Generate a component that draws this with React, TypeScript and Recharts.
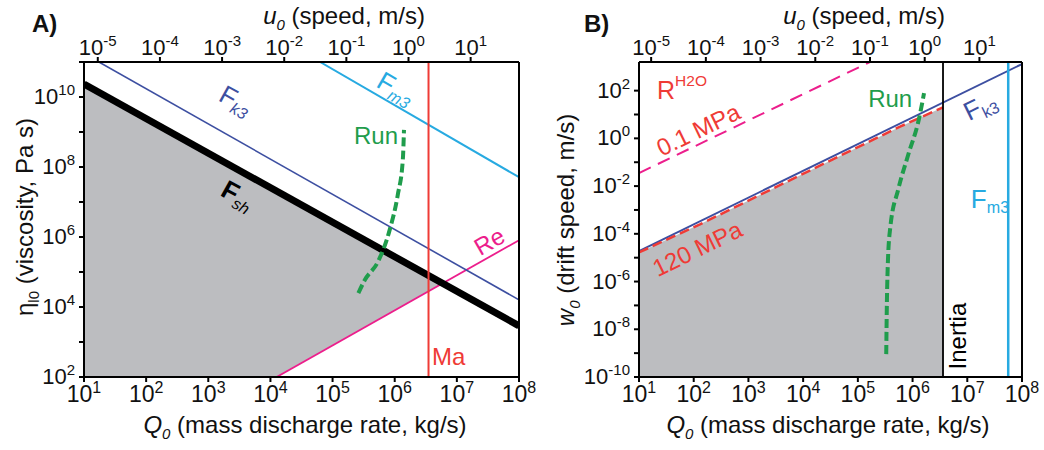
import React from 'react';
import { ComposedChart, Line, Area, XAxis, YAxis, ReferenceLine, ReferenceDot } from 'recharts';

const FONT = "'Liberation Sans', Arial, Helvetica, sans-serif";

// axis ticks
const qTicks = [1e1, 1e2, 1e3, 1e4, 1e5, 1e6, 1e7, 1e8];
const uTicks = [1e-5, 1e-4, 1e-3, 1e-2, 1e-1, 1e0, 1e1];
const uDomain = [6.0e-6, 60];
const uSpan = [{ u: 6.0e-6, v: 1e4 }, { u: 60, v: 1e4 }];
const etaTicks = [1e2, 1e3, 1e4, 1e5, 1e6, 1e7, 1e8, 1e9, 1e10, 1e11];
const wTicks = [1e-10, 1e-9, 1e-8, 1e-7, 1e-6, 1e-5, 1e-4, 1e-3, 1e-2, 1e-1, 1e0, 1e1, 1e2];

// panel A (viscosity)
const grayA = [
  { q: 10, range: [100, 2.34e10] },
  { q: 1.26e4, range: [100, 2.0e7] },
  { q: 5.9e6, range: [4.7e4, 4.7e4] },
];
const fk3A = [{ q: 17.4, v: 1e11 }, { q: 1e8, v: 1.6e4 }];
const fshA = [{ q: 10, v: 2.34e10 }, { q: 1e8, v: 2.9e3 }];
const fm3A = [{ q: 6.3e4, v: 1e11 }, { q: 1e8, v: 5.1e7 }];
const reA = [{ q: 1.26e4, v: 100 }, { q: 1e8, v: 8.1e5 }];
const maQ = 3.5e6;
const runA = [
  { q: 2.6e5, v: 2.5e4 },
  { q: 3.3e5, v: 5.9e4 },
  { q: 5.4e5, v: 2.0e5 },
  { q: 8.3e5, v: 1.6e6 },
  { q: 1.12e6, v: 1.6e7 },
  { q: 1.35e6, v: 1.6e8 },
  { q: 1.41e6, v: 1.15e9 },
];

// panel B (drift speed)
const fk3B = [{ q: 10, v: 1.9e-5 }, { q: 1e8, v: 1.3e3 }];
const r120B = [
  { q: 10, v: 1.66e-5 },
  { q: 130, v: 2.5e-4 },
  { q: 8.7e3, v: 2.8e-2 },
  { q: 5.9e5, v: 3.1 },
  { q: 3.6e6, v: 20 },
];
const r01B = [{ q: 10, v: 3.5e-2 }, { q: 1.66e5, v: 1585 }];
const inertiaQ = 3.6e6;
const fm3BQ = 5.6e7;
const runB = [
  { q: 3.3e5, v: 9.1e-10 },
  { q: 3.4e5, v: 1.7e-7 },
  { q: 3.55e5, v: 7.9e-6 },
  { q: 3.9e5, v: 1.7e-4 },
  { q: 5.5e5, v: 7.6e-3 },
  { q: 8.3e5, v: 0.2 },
  { q: 1.32e6, v: 7.1 },
  { q: 1.62e6, v: 79 },
];

const BLUE = '#3d4fa1';
const CYAN = '#27aae1';
const PINK = '#ec1e8c';
const RED = '#ef3b36';
const GREEN = '#1f9d4c';
const GRAY = '#bcbdc0';

const exp10 = (v: number) => Math.round(Math.log10(v));

const BottomTick = (p: any) => (
  <text x={p.x} y={p.y + 18} textAnchor="middle" fontSize={23} fontFamily={FONT} fill="#111">
    <tspan>10</tspan>
    <tspan dy={-9} fontSize={16}>{exp10(p.payload.value)}</tspan>
  </text>
);

const TopTick = (p: any) => (
  <text x={p.x} y={p.y} textAnchor="middle" fontSize={22} fontFamily={FONT} fill="#111">
    <tspan>10</tspan>
    <tspan dy={-9} fontSize={15}>{exp10(p.payload.value)}</tspan>
  </text>
);

const LeftTick = (p: any) => {
  const e = exp10(p.payload.value);
  if (e % 2 !== 0) return <g />;
  return (
    <text x={p.x} y={p.y + 7} textAnchor="end" fontSize={22} fontFamily={FONT} fill="#111">
      <tspan>10</tspan>
      <tspan dy={-9} fontSize={15}>{e}</tspan>
    </text>
  );
};

type Seg = { s: string; sub?: boolean; sup?: boolean; it?: boolean; bold?: boolean };

const Ann = (props: any) => {
  const { viewBox, parts, color = '#000', size = 24, rot = 0 } = props;
  const x = viewBox.x + (viewBox.width || 0) / 2;
  const y = viewBox.y + (viewBox.height || 0) / 2;
  let shift = 0;
  const spans = (parts as Seg[]).map((seg, i) => {
    const target = seg.sub ? size * 0.3 : seg.sup ? -size * 0.38 : 0;
    const dy = target - shift;
    shift = target;
    return (
      <tspan
        key={i}
        dy={dy}
        fontSize={seg.sub || seg.sup ? size * 0.62 : size}
        fontStyle={seg.it ? 'italic' : 'normal'}
        fontWeight={seg.bold ? 'bold' : 'normal'}
      >
        {seg.s}
      </tspan>
    );
  });
  return (
    <text
      x={x}
      y={y}
      textAnchor="middle"
      dominantBaseline="central"
      fill={color}
      fontFamily={FONT}
      transform={rot ? `rotate(${rot} ${x} ${y})` : undefined}
    >
      {spans}
    </text>
  );
};

const Note = ({ q, v, ...rest }: any) => (
  <ReferenceDot x={q} y={v} r={0} fill="none" stroke="none" label={<Ann {...rest} />} />
);

const axisProps = {
  stroke: '#000',
  strokeWidth: 2,
  tickLine: { stroke: '#000', strokeWidth: 2 },
  tickSize: 5,
  interval: 0 as const,
  allowDataOverflow: true,
};

const PanelA = () => (
  <ComposedChart width={560} height={450} data={grayA} margin={{ top: 22, right: 40, bottom: 13, left: 0 }} style={{ overflow: 'visible' }}>
    <Area dataKey="range" type="linear" fill={GRAY} fillOpacity={1} stroke="none" isAnimationActive={false} />
    <XAxis dataKey="q" type="number" scale="log" domain={[10, 1e8]} ticks={qTicks} height={60} tickMargin={2} tick={<BottomTick />} {...axisProps} />
    <XAxis xAxisId="u" dataKey="u" orientation="top" type="number" scale="log" domain={uDomain} ticks={uTicks} height={40} tickMargin={2} tick={<TopTick />} {...axisProps} />
    <YAxis type="number" scale="log" domain={[1e2, 1e11]} ticks={etaTicks} width={84} tickMargin={4} tick={<LeftTick />} {...axisProps} />
    <YAxis yAxisId="r" orientation="right" type="number" domain={[0, 1]} width={1} tick={false} tickLine={false} stroke="#000" strokeWidth={2} />
    {/* invisible span that gives the speed axis something to measure */}
    <Line xAxisId="u" data={uSpan} dataKey="v" stroke="none" dot={false} isAnimationActive={false} />
    <Line data={reA} dataKey="v" type="linear" stroke={PINK} strokeWidth={1.8} dot={false} isAnimationActive={false} />
    <Line data={fm3A} dataKey="v" type="linear" stroke={CYAN} strokeWidth={2} dot={false} isAnimationActive={false} />
    <Line data={fk3A} dataKey="v" type="linear" stroke={BLUE} strokeWidth={1.6} dot={false} isAnimationActive={false} />
    <Line data={fshA} dataKey="v" type="linear" stroke="#000" strokeWidth={7} dot={false} isAnimationActive={false} />
    <ReferenceLine x={maQ} stroke={RED} strokeWidth={2} />
    <Line data={runA} dataKey="v" type="monotone" stroke={GREEN} strokeWidth={4} strokeDasharray="9 4" dot={false} isAnimationActive={false} />
    <Note q={2.79e3} v={8.2e9} color={BLUE} rot={29} size={26} parts={[{ s: 'F' }, { s: 'k3', sub: true, it: true }]} />
    <Note q={3.0e3} v={1.58e7} color="#000" rot={29} size={26} parts={[{ s: 'F', bold: true }, { s: 'sh', sub: true, it: true }]} />
    <Note q={1.05e6} v={1.8e10} color={CYAN} rot={30} size={26} parts={[{ s: 'F' }, { s: 'm3', sub: true, it: true }]} />
    <Note q={5.0e5} v={8.1e8} color={GREEN} size={24} parts={[{ s: 'Run' }]} />
    <Note q={3.3e7} v={7.8e5} color={PINK} rot={-30} size={24} parts={[{ s: 'Re' }]} />
    <Note q={7.4e6} v={400} color={RED} size={24} parts={[{ s: 'Ma' }]} />
  </ComposedChart>
);

const PanelB = () => (
  <ComposedChart width={514} height={450} data={r120B} margin={{ top: 22, right: 21, bottom: 13, left: 0 }} style={{ overflow: 'visible' }}>
    <Area dataKey="v" type="linear" fill={GRAY} fillOpacity={1} stroke="none" isAnimationActive={false} />
    <XAxis dataKey="q" type="number" scale="log" domain={[10, 1e8]} ticks={qTicks} height={60} tickMargin={2} tick={<BottomTick />} {...axisProps} />
    <XAxis xAxisId="u" dataKey="u" orientation="top" type="number" scale="log" domain={uDomain} ticks={uTicks} height={40} tickMargin={2} tick={<TopTick />} {...axisProps} />
    <YAxis type="number" scale="log" domain={[1e-10, 1585]} ticks={wTicks} width={109} tickMargin={4} tick={<LeftTick />} {...axisProps} />
    <YAxis yAxisId="r" orientation="right" type="number" domain={[0, 1]} width={1} tick={false} tickLine={false} stroke="#000" strokeWidth={2} />
    <Line xAxisId="u" data={uSpan} dataKey="v" stroke="none" dot={false} isAnimationActive={false} />
    <Line data={r01B} dataKey="v" type="linear" stroke={PINK} strokeWidth={2} strokeDasharray="13 8" dot={false} isAnimationActive={false} />
    <Line data={fk3B} dataKey="v" type="linear" stroke={BLUE} strokeWidth={2} dot={false} isAnimationActive={false} />
    <Line data={r120B} dataKey="v" type="linear" stroke={RED} strokeWidth={2.5} strokeDasharray="10 5" dot={false} isAnimationActive={false} />
    <ReferenceLine x={inertiaQ} stroke="#000" strokeWidth={1.8} />
    <ReferenceLine x={fm3BQ} stroke={CYAN} strokeWidth={2.5} />
    <Line data={runB} dataKey="v" type="monotone" stroke={GREEN} strokeWidth={4} strokeDasharray="9 4" dot={false} isAnimationActive={false} />
    <Note q={61} v={107} color={RED} size={25} parts={[{ s: 'R' }, { s: 'H2O', sup: true }]} />
    <Note q={120} v={2.45} color={RED} rot={-26} size={24} parts={[{ s: '0.1 MPa' }]} />
    <Note q={115} v={2.5e-5} color={RED} rot={-26} size={24} parts={[{ s: '120 MPa' }]} />
    <Note q={3.9e5} v={49} color={GREEN} size={24} parts={[{ s: 'Run' }]} />
    <Note q={1.7e7} v={23} color={BLUE} rot={-26} size={26} parts={[{ s: 'F' }, { s: 'k3', sub: true }]} />
    <Note q={2.6e7} v={2.9e-3} color={CYAN} size={26} parts={[{ s: 'F' }, { s: 'm3', sub: true }]} />
    <Note q={6.5e6} v={5.2e-9} color="#000" rot={-90} size={24} parts={[{ s: 'Inertia' }]} />
  </ComposedChart>
);

const Titles = () => (
  <svg width={1044} height={450} style={{ position: 'absolute', left: 0, top: 0, pointerEvents: 'none' }} fontFamily={FONT} fill="#111">
    <text x={32} y={32} fontSize={24} fontWeight="bold">A)</text>
    <text x={584} y={32} fontSize={24} fontWeight="bold">B)</text>
    {[344, 864].map((cx) => (
      <text key={cx} x={cx} y={24} fontSize={24} textAnchor="middle">
        <tspan fontStyle="italic">u</tspan>
        <tspan fontStyle="italic" fontSize={15} dy={6}>0</tspan>
        <tspan dy={-6}> (speed, m/s)</tspan>
      </text>
    ))}
    {[305, 828].map((cx) => (
      <text key={cx} x={cx} y={433} fontSize={24} textAnchor="middle">
        <tspan fontStyle="italic">Q</tspan>
        <tspan fontStyle="italic" fontSize={15} dy={6}>0</tspan>
        <tspan dy={-6}> (mass discharge rate, kg/s)</tspan>
      </text>
    ))}
    <text x={0} y={0} fontSize={24} textAnchor="middle" transform="translate(33 217) rotate(-90)">
      <tspan>η</tspan>
      <tspan fontSize={15} dy={6}>l0</tspan>
      <tspan dy={-6}> (viscosity, Pa s)</tspan>
    </text>
    <text x={0} y={0} fontSize={24} textAnchor="middle" transform="translate(574 220) rotate(-90)">
      <tspan fontStyle="italic">w</tspan>
      <tspan fontStyle="italic" fontSize={15} dy={6}>0</tspan>
      <tspan dy={-6}> (drift speed, m/s)</tspan>
    </text>
  </svg>
);

export default function App() {
  return (
    <div style={{ position: 'absolute', left: 0, top: 0, width: 1044, height: 450, background: '#fff', overflow: 'hidden' }}>
      <div style={{ position: 'absolute', left: 0, top: 0 }}>
        <PanelA />
      </div>
      <div style={{ position: 'absolute', left: 530, top: 0 }}>
        <PanelB />
      </div>
      <Titles />
    </div>
  );
}
